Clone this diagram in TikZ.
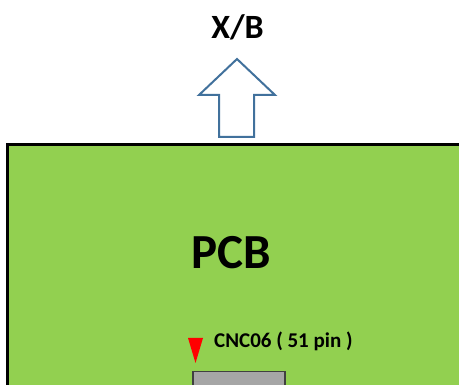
\documentclass[tikz,border=0pt]{standalone}
\usepackage{fontspec}
\setmainfont{Carlito}
\definecolor{pcbgreen}{HTML}{92D050}
\definecolor{arrowblue}{HTML}{41719C}
\definecolor{conngrey}{HTML}{A6A6A6}
\begin{document}
\begin{tikzpicture}[x=1pt,y=-1pt,
  lbl/.style={font=\bfseries, text=black, inner sep=0pt}]
\useasboundingbox (0,0) rectangle (459,385);
\clip (0,0) rectangle (459,385);
% PCB board
\draw[line width=3pt, fill=pcbgreen] (7.5,144.5) rectangle (480,400);
% up arrow
\draw[line width=2pt, draw=arrowblue, fill=white, line join=miter]
  (237,59) -- (275,95) -- (254,95) -- (254,137) -- (219,137) -- (219,95) -- (199,95) -- cycle;
% connector
\draw[line width=1.5pt, draw=black!75, fill=conngrey] (193,371.5) rectangle (285,400);
% red marker
\fill[red] (188,338) -- (203,338) -- (195.5,363) -- cycle;
% labels
\node[lbl, font=\fontsize{34}{34}\bfseries\selectfont, anchor=base] (xb) at (237.5,39) {X/B};
\node[lbl, font=\fontsize{49}{49}\bfseries\selectfont, anchor=base] (pcb) at (231.5,269) {PCB};
\node[lbl, font=\fontsize{21}{21}\bfseries\selectfont, anchor=base west] (cnc) at (214,348) {CNC06 ( 51 pin )};
\end{tikzpicture}
\end{document}
